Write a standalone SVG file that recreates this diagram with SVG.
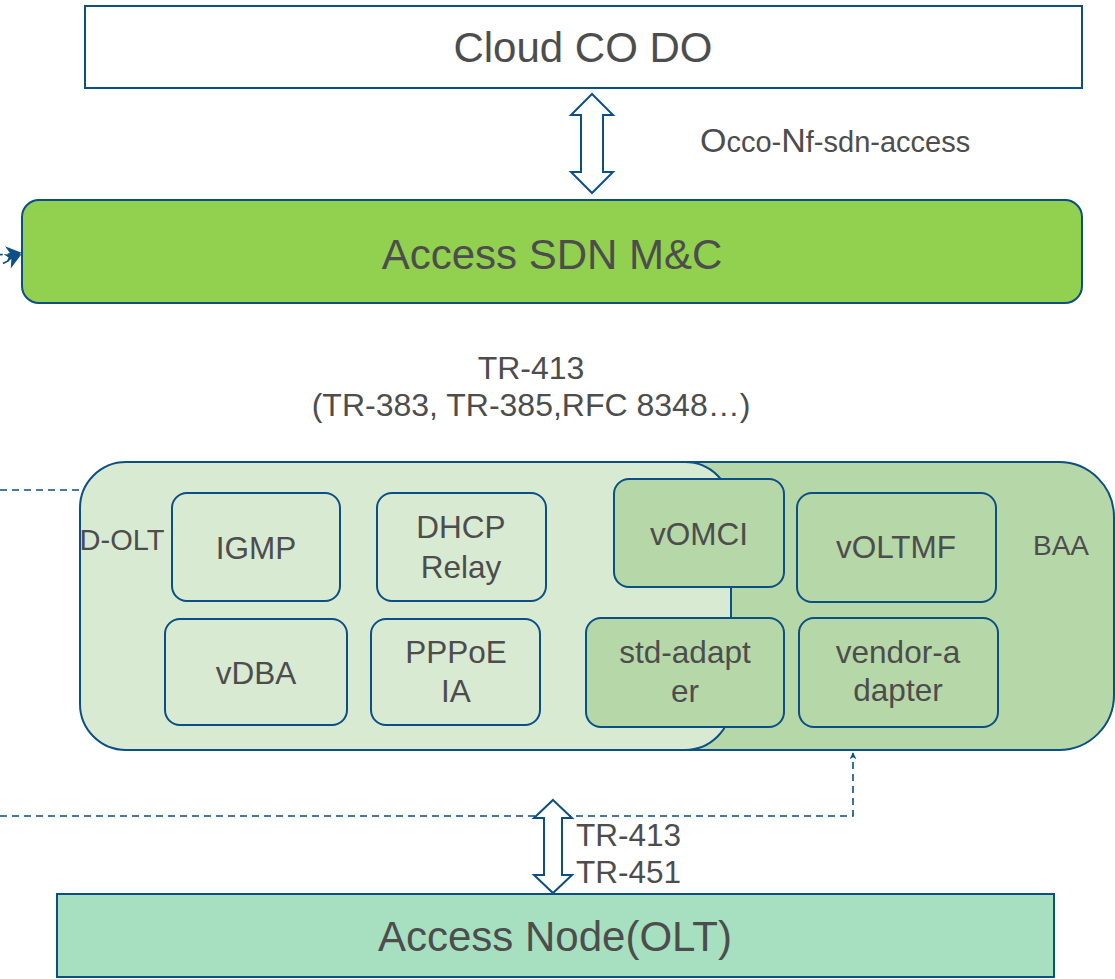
<svg xmlns="http://www.w3.org/2000/svg" width="1115" height="979" viewBox="0 0 1115 979">
<defs>
<style>
.t{font-family:"Liberation Sans",Arial,sans-serif;fill:#4d4d4d;text-anchor:middle}
.box{stroke:#0b4f84;stroke-width:2}
.lite{fill:#d9ead3}
.dark{fill:#b6d7a8}
.dash{fill:none;stroke:#0b4f84;stroke-width:1.6;stroke-dasharray:7 5}
.harrow{fill:#ffffff;stroke:#0b4f84;stroke-width:2;stroke-linejoin:miter}
</style>
<marker id="ah" viewBox="0 0 10 10" refX="9" refY="5" markerWidth="7" markerHeight="7" orient="auto" markerUnits="userSpaceOnUse">
<path d="M0,0 L10,5 L0,10 L3,5 Z" fill="#0b4f84"/>
</marker>
<marker id="ah2" viewBox="0 0 10 10" refX="9" refY="5" markerWidth="16" markerHeight="16" orient="auto" markerUnits="userSpaceOnUse">
<path d="M0,0 L10,5 L0,10 L3,5 Z" fill="#0b4f84"/>
</marker>
</defs>
<rect width="1115" height="979" fill="#ffffff"/>

<g id="cloud-co-do">
<rect x="85" y="6" width="997" height="82" fill="#ffffff" class="box"/>
<text class="t" x="583" y="62" font-size="42">Cloud CO DO</text>
</g>

<g id="access-sdn-mc">
<rect x="22" y="200" width="1060" height="103" rx="17" fill="#92d050" class="box"/>
<text class="t" x="552" y="269" font-size="42">Access SDN M&amp;C</text>
</g>

<g id="baa">
<rect x="560" y="462" width="554" height="288" rx="55" class="box dark"/>
<text class="t" x="1061" y="555" font-size="28">BAA</text>
</g>

<g id="d-olt">
<rect x="80" y="462" width="651" height="288" rx="46" class="box lite"/>
<text class="t" x="122" y="550" font-size="29">D-OLT</text>
</g>

<g id="igmp">
<rect x="172" y="493" width="168" height="108" rx="15" class="box lite"/>
<text class="t" x="256" y="559" font-size="31.5">IGMP</text>
</g>
<g id="dhcp-relay">
<rect x="377" y="493" width="169" height="108" rx="15" class="box lite"/>
<text class="t" x="461" y="538" font-size="31.5">DHCP</text>
<text class="t" x="461" y="578" font-size="31.5">Relay</text>
</g>
<g id="vomci">
<rect x="614" y="479" width="170" height="108" rx="15" class="box dark"/>
<text class="t" x="699" y="545" font-size="31.5">vOMCI</text>
</g>
<g id="voltmf">
<rect x="797" y="493" width="199" height="109" rx="15" class="box dark"/>
<text class="t" x="896" y="558" font-size="31.5">vOLTMF</text>
</g>
<g id="vdba">
<rect x="165" y="619" width="182" height="106" rx="15" class="box lite"/>
<text class="t" x="256" y="684" font-size="31.5">vDBA</text>
</g>
<g id="pppoe-ia">
<rect x="371" y="619" width="169" height="106" rx="15" class="box lite"/>
<text class="t" x="456" y="663" font-size="31.5">PPPoE</text>
<text class="t" x="456" y="702" font-size="31.5">IA</text>
</g>
<g id="std-adapter">
<rect x="586" y="618" width="198" height="109" rx="15" class="box dark"/>
<text class="t" x="685" y="663" font-size="31.5">std-adapt</text>
<text class="t" x="685" y="702" font-size="31.5">er</text>
</g>
<g id="vendor-adapter">
<rect x="799" y="618" width="199" height="109" rx="15" class="box dark"/>
<text class="t" x="898" y="663" font-size="31.5">vendor-a</text>
<text class="t" x="898" y="701" font-size="31.5">dapter</text>
</g>

<g id="access-node-olt">
<rect x="57" y="894" width="997" height="83" fill="#a6e0c0" class="box"/>
<text class="t" x="555" y="951" font-size="42">Access Node(OLT)</text>
</g>

<g id="connectors">
<path class="dash" d="M-40,258 L20,253" marker-end="url(#ah2)"/>
<path class="dash" d="M-40,285 L20,255" marker-end="url(#ah2)"/>
<path class="dash" d="M0,490 L84,490"/>
<path class="dash" d="M0,816 L853,816 L853,753" marker-end="url(#ah)"/>
<polygon class="harrow" points="592,94 613,115 603,115 603,172 613,172 592,193 571,172 581,172 581,115 571,115"/>
<polygon class="harrow" points="553,800 572,818 562,818 562,875 572,875 553,893 534,875 544,875 544,818 534,818"/>
<text x="700" y="152" style="font-family:'Liberation Sans',Arial,sans-serif;fill:#4d4d4d"><tspan font-size="34">O</tspan><tspan font-size="29">cco-</tspan><tspan font-size="34">N</tspan><tspan font-size="29">f-sdn-access</tspan></text>
<text class="t" x="531" y="379" font-size="32">TR-413</text>
<text class="t" x="531" y="416" font-size="32">(TR-383, TR-385,RFC 8348…)</text>
<text x="576" y="846" font-size="31.5" style="font-family:'Liberation Sans',Arial,sans-serif;fill:#4d4d4d">TR-413</text>
<text x="576" y="883" font-size="31.5" style="font-family:'Liberation Sans',Arial,sans-serif;fill:#4d4d4d">TR-451</text>
</g>
</svg>
